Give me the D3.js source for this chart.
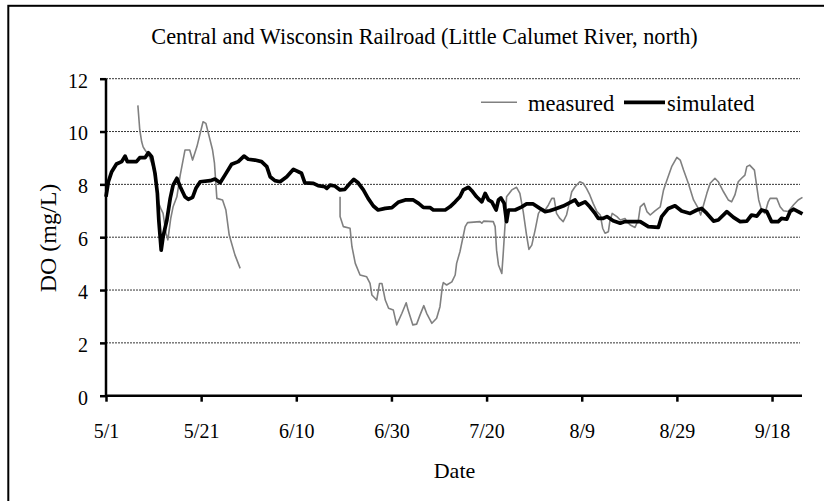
<!DOCTYPE html>
<html>
<head>
<meta charset="utf-8">
<script src="https://cdn.jsdelivr.net/npm/d3@7"></script>
<style>
	body{margin:0;background:#fff;}
	svg text{font-family:"Liberation Serif","Times New Roman",serif;}
</style>
</head>
<body>
<svg id="chart" width="824" height="501"></svg>
<script>
//days counted from 5/1
const tickDays = [0,20,40,60,80,100,120,140];
const tickLabels = ['5/1','5/21','6/10','6/30','7/20','8/9','8/29','9/18'];
const yTicks = [0,2,4,6,8,10,12];

//[day, DO] ; null value = gap in record
const measured = [
	[6.7,10.99],[7.1,10.06],[7.5,9.61],[7.8,9.42],[8.2,9.3],[9.0,9.1],[10.0,8.6],[10.7,7.8],
	[11.1,7.28],[11.5,7.09],[12.0,6.9],[12.6,6.15],[13.0,5.9],[13.6,6.7],[14.1,7.15],
	[14.9,7.53],[15.6,8.35],[16.6,9.3],[17.6,9.3],[18.2,8.92],[19.1,9.42],[20.4,10.37],
	[21.0,10.31],[22.4,9.3],[22.8,8.8],[23.3,7.47],[24.5,7.41],[25.2,7.03],[25.9,6.08],
	[27.1,5.33],[28.2,4.82],
	[38.7,null],
	[49.2,7.53],[49.2,6.78],[49.9,6.4],[51.3,6.34],[51.7,5.64],[52.4,5.01],[53.4,4.57],
	[54.8,4.5],[55.5,4.25],[55.9,3.81],[56.9,3.62],[57.5,4.25],[58.0,4.25],[58.7,3.62],
	[59.4,3.31],[60.4,3.24],[61.1,2.68],[62.2,3.12],[63.1,3.52],[63.5,3.24],[64.5,2.68],
	[65.3,2.71],[66.0,3.05],[66.8,3.41],[67.4,3.12],[68.5,2.74],[69.5,2.93],[70.2,3.37],
	[70.7,4.13],[70.9,4.28],[71.6,4.19],[72.7,4.31],[73.4,4.57],[73.7,5.01],[74.4,5.45],
	[75.5,6.4],[76.0,6.55],[78.6,6.59],[79.0,6.53],[79.4,6.61],[81.4,6.59],[81.8,6.4],
	[82.1,5.51],[82.5,4.95],[83.2,4.63],[83.5,5.39],[83.9,6.53],[84.2,7.53],[85.3,7.79],
	[86.3,7.89],[87.0,7.66],[87.7,6.97],[88.4,6.08],[88.9,5.54],[89.5,5.7],[90.2,6.27],
	[90.9,6.9],[91.6,7.09],[92.3,7.03],[93.0,7.22],[93.7,7.47],[94.2,7.47],[94.7,6.9],
	[95.4,6.71],[96.1,6.59],[96.8,6.84],[97.2,7.15],[97.9,7.72],[98.6,7.91],[99.6,8.1],
	[100.3,8.04],[101.0,7.85],[101.7,7.6],[102.4,7.28],[103.2,6.97],[103.9,6.84],
	[104.4,6.34],[104.9,6.15],[105.6,6.21],[105.9,6.59],[106.4,6.9],[107.4,6.78],
	[108.1,6.65],[109.1,6.71],[109.5,6.59],[110.2,6.46],[111.2,6.37],[111.9,6.65],
	[112.3,7.15],[113.1,7.28],[113.7,6.97],[114.4,6.84],[115.4,7.0],[116.5,7.15],
	[117.2,7.79],[117.9,8.16],[118.9,8.67],[120.0,9.02],[120.7,8.92],[121.4,8.54],
	[122.4,8.04],[123.5,7.41],[124.5,7.09],[125.0,6.84],[125.5,7.15],[126.3,7.66],
	[127.0,8.04],[128.0,8.23],[128.7,8.1],[129.8,7.72],[130.8,7.41],[131.5,7.34],
	[132.2,7.6],[132.9,8.1],[133.6,8.23],[134.3,8.35],[134.7,8.67],[135.3,8.73],
	[136.3,8.54],[136.7,8.04],[137.2,7.41],[137.8,7.03],[138.5,6.9],[139.2,7.34],
	[139.6,7.47],[141.0,7.47],[141.7,7.15],[142.4,7.0],[143.4,6.97],[144.5,7.22],
	[145.5,7.41],[146.4,7.51]
];

const simulated = [
	[0,7.53],[0.5,8.1],[1.2,8.48],[2.2,8.77],[3.3,8.86],[4.0,9.07],[4.5,8.86],[6.4,8.86],
	[7.1,9.01],[8.2,9.01],[8.9,9.2],[9.6,9.05],[10.3,8.42],[10.8,7.66],[11.1,6.65],
	[11.6,5.51],[12.0,6.02],[12.8,6.65],[13.5,7.47],[14.1,7.97],[14.9,8.23],[15.6,7.91],
	[16.6,7.53],[17.3,7.43],[18.2,7.51],[18.9,7.85],[19.8,8.1],[21.9,8.14],[22.9,8.2],
	[24.0,8.06],[25.0,8.35],[26.4,8.76],[27.8,8.86],[29.0,9.07],[29.9,8.95],[31.3,8.92],
	[32.7,8.86],[33.8,8.67],[34.5,8.29],[35.5,8.14],[36.6,8.1],[38.0,8.29],[39.4,8.57],
	[41.1,8.42],[41.8,8.06],[43.6,8.04],[44.6,7.95],[46.0,7.91],[46.4,7.85],[47.1,7.97],
	[48.1,7.94],[49.2,7.79],[50.2,7.81],[51.3,8.04],[52.1,8.19],[53.0,8.06],[54.1,7.79],
	[55.1,7.47],[56.2,7.18],[57.2,7.03],[58.7,7.09],[60.1,7.12],[61.4,7.32],[62.9,7.41],
	[64.6,7.41],[65.7,7.28],[66.7,7.13],[68.1,7.12],[68.8,7.03],[71.3,7.03],[72.3,7.15],
	[73.4,7.34],[74.4,7.53],[75.1,7.79],[76.2,7.89],[76.9,7.76],[77.9,7.53],[79.0,7.34],
	[79.7,7.66],[80.4,7.41],[81.1,7.34],[82.0,7.03],[82.5,7.41],[83.0,7.49],[83.7,7.28],
	[84.2,6.59],[84.6,7.03],[86.0,7.03],[87.4,7.15],[88.4,7.26],[89.8,7.26],[91.2,7.09],
	[92.3,6.97],[93.3,7.0],[94.7,7.09],[96.1,7.18],[97.2,7.28],[98.6,7.41],[99.3,7.22],
	[100.7,7.34],[101.7,7.15],[102.8,6.9],[103.5,6.71],[104.5,6.71],[105.3,6.78],
	[106.6,6.62],[108.1,6.53],[109.1,6.59],[112.3,6.59],[114.0,6.4],[116.1,6.37],
	[116.8,6.78],[118.2,7.09],[119.6,7.19],[121.0,6.99],[122.8,6.9],[124.2,7.03],
	[125.2,7.09],[126.3,6.9],[127.7,6.61],[128.7,6.65],[130.5,6.97],[131.9,6.75],
	[133.3,6.59],[134.7,6.61],[135.7,6.84],[136.8,6.8],[137.8,7.03],[138.9,6.97],
	[139.9,6.59],[141.3,6.59],[142.0,6.71],[143.1,6.68],[143.8,6.97],[144.5,7.06],
	[145.5,6.97],[146.4,6.88]
];

const FONT = '"Liberation Serif","Times New Roman",serif';
const svg = d3.select('#chart');
const plot = {l:106, r:802, t:78.7, b:395.7};

const x = d3.scaleLinear().domain([0,146.3]).range([plot.l,plot.r]);
const y = d3.scaleLinear().domain([0,12]).range([plot.b,plot.t]);

//outer frame (cut off at right and bottom)
svg.append('rect')
	.attr('x',8.3).attr('y',5.8)
	.attr('width',900).attr('height',600)
	.style('fill','none').style('stroke','#000').style('stroke-width',2);

svg.append('text')
	.attr('x',424.5).attr('y',44)
	.attr('text-anchor','middle')
	.attr('font-family',FONT)
	.style('font-size','22.3px')
	.text('Central and Wisconsin Railroad (Little Calumet River, north)');

//gridlines
svg.append('g').selectAll('line')
	.data(yTicks.filter(d=>d>0))
	.enter().append('line')
	.attr('x1',plot.l).attr('x2',800)
	.attr('y1',d=>y(d)).attr('y2',d=>y(d))
	.style('stroke','#000').style('stroke-width',0.8)
	.style('stroke-dasharray','2,1');

//axes
const yAxis = svg.append('g')
	.attr('transform',`translate(${plot.l},0)`)
	.call(d3.axisLeft(y).tickValues(yTicks).tickSize(6).tickPadding(12).tickFormat(d3.format('d')));
const xAxis = svg.append('g')
	.attr('transform',`translate(0,${plot.b})`)
	.call(d3.axisBottom(x).tickValues(tickDays).tickSize(6).tickPadding(22)
		.tickFormat((d,i)=>tickLabels[i]));
[yAxis,xAxis].forEach(a=>{
	a.attr('font-family',FONT).attr('font-size',20);
	a.select('.domain').style('stroke','#000').style('stroke-width',2.5);
	a.selectAll('.tick line').style('stroke','#000').style('stroke-width',2.5);
	a.selectAll('.tick text').style('fill','#000');
});
yAxis.selectAll('.tick text').attr('dy','0.42em');
xAxis.select('.domain').attr('d',`M${plot.l},0H${plot.r}`);
yAxis.select('.domain').attr('d',`M0,${plot.b}V${plot.t}`);

const line = d3.line()
	.defined(d=>d[1]!==null)
	.x(d=>x(d[0])).y(d=>y(d[1]));

svg.append('path').datum(measured)
	.attr('d',line)
	.style('fill','none').style('stroke','#808080').style('stroke-width',1.6)
	.style('stroke-linejoin','round');
svg.append('path').datum(simulated)
	.attr('d',line)
	.style('fill','none').style('stroke','#000').style('stroke-width',3.7)
	.style('stroke-linejoin','round');

//legend
const legend = svg.append('g').attr('font-family',FONT).attr('font-size',22.5);
legend.append('line').attr('x1',481).attr('x2',517).attr('y1',102.3).attr('y2',102.3)
	.style('stroke','#808080').style('stroke-width',1.6);
legend.append('text').attr('x',528).attr('y',111).text('measured');
legend.append('line').attr('x1',624).attr('x2',665).attr('y1',102.3).attr('y2',102.3)
	.style('stroke','#000').style('stroke-width',3.7);
legend.append('text').attr('x',667).attr('y',111).text('simulated');

svg.append('text')
	.attr('x',454.5).attr('y',478)
	.attr('text-anchor','middle')
	.attr('font-family',FONT)
	.style('font-size','22px')
	.text('Date');
svg.append('text')
	.attr('transform','translate(55.7,238) rotate(-90)')
	.attr('text-anchor','middle')
	.attr('font-family',FONT)
	.style('font-size','24px')
	.text('DO (mg/L)');
</script>
</body>
</html>
